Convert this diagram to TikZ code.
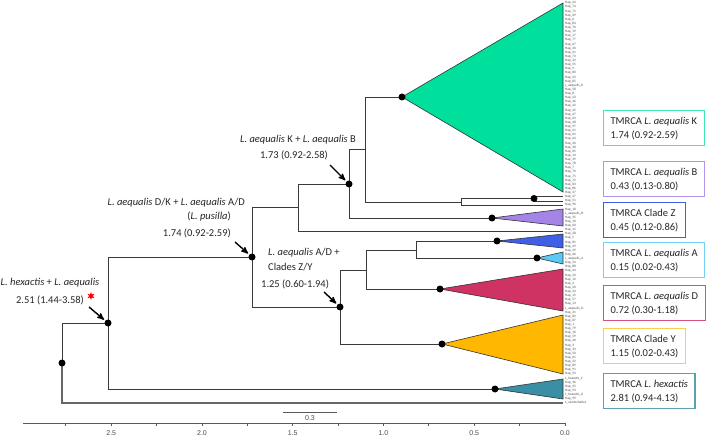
\documentclass[tikz,border=0pt]{standalone}
\usepackage{fontspec}
\setmainfont{Carlito}
\newfontfamily\axisfont{Liberation Sans}
\usetikzlibrary{positioning,shapes.geometric,arrows}
\definecolor{cladeK}{HTML}{00E09C}
\definecolor{cladeB}{HTML}{A584E8}
\definecolor{cladeZ}{HTML}{3F5FE6}
\definecolor{cladeA}{HTML}{5CC9F5}
\definecolor{cladeD}{HTML}{CF3363}
\definecolor{cladeY}{HTML}{FFB700}
\definecolor{cladeH}{HTML}{3A8FA5}
\definecolor{treegray}{HTML}{3A3A3A}
\tikzset{
        >=stealth', % arrow heads of the pointers
        branch/.style={draw=treegray, line width=0.9pt},
        clade/.style={draw=black!80, line width=0.6pt},
        dot/.style={circle, fill=black, inner sep=0pt, minimum size=7pt},
        tip/.style={anchor=west, inner sep=0pt, text=black!70, font=\fontsize{3.4}{3.4}\selectfont},
        lbl/.style={inner sep=0pt, text=black!85, font=\fontsize{10.5}{12}\selectfont},
        ptr/.style={->, line width=1.4pt, shorten >=1.5pt},
        tbox/.style={anchor=north west, align=left, line width=1.2pt, inner xsep=7pt, inner ysep=4pt,
                     minimum height=35pt, text=black!85, font=\fontsize{10.5}{14}\selectfont},
        axis/.style={draw=black!65, line width=0.8pt},
        axlab/.style={inner sep=0pt, text=black!70, font=\axisfont\fontsize{7}{8}\selectfont},
}
\begin{document}
\begin{tikzpicture}[x=1pt,y=-1pt]
\fill[white] (0,0) rectangle (709,438);
\useasboundingbox (0,0) rectangle (709,438);

% internal nodes of the tree (0.0 at x=565, 181.5 per unit)
\coordinate (root) at (62,363);
\coordinate (hexaq) at (108,323);
\coordinate (dk) at (252,257);
\coordinate (u298) at (298,207);
\coordinate (kb) at (349,184);
\coordinate (u365) at (365,149);
\coordinate (u461) at (461,202);
\coordinate (n534) at (534,198.5);
\coordinate (ad) at (340,307);
\coordinate (u366) at (366,270);
\coordinate (u416) at (416,250);
% collapsed clades
\coordinate (kK) at (402,97);
\coordinate (kB) at (492,218);
\coordinate (kZ) at (497,241);
\coordinate (kA) at (537,258);
\coordinate (kD) at (440,289);
\coordinate (kY) at (442,344);
\coordinate (kH) at (495,389);
% single tips
\coordinate (t196) at (563,196);
\coordinate (t201) at (563,201);
\coordinate (t205) at (563,205);
\coordinate (t231) at (563,231);
\coordinate (camt) at (563,403);

\foreach \apex/\top/\bot/\col in {kK/3/192/cladeK, kB/209/226/cladeB, kZ/234/248/cladeZ,
    kA/252/264/cladeA, kD/269/311/cladeD, kY/315/374/cladeY, kH/379/399/cladeH}
  \filldraw[clade, fill=\col] (\apex) -- (563,\top) -- (563,\bot) -- cycle;

\foreach \p/\c in {root/hexaq, hexaq/dk, hexaq/kH, dk/u298, dk/ad, u298/kb, u298/t231,
    kb/u365, kb/kB, u365/kK, u365/u461, u461/n534, u461/t205, n534/t196, n534/t201,
    ad/u366, ad/kY, u366/u416, u366/kD, u416/kZ, u416/kA}
  \draw[branch] (\p) |- (\c);
\draw[draw=black!60, line width=2pt] (root) |- (camt);

\foreach \c in {root,hexaq,dk,kb,kK,n534,kB,ad,kZ,kA,kD,kY,kH}
  \node[dot] (dot-\c) at (\c) {};

% tip labels
\foreach \t [count=\i from 0] in {Hap\_24,Hap\_74,Hap\_71,Hap\_69,Hap\_6,Hap\_84,Hap\_76,Hap\_19,
    Hap\_17,Hap\_77,Hap\_67,Hap\_30,Hap\_41,Hap\_73,Hap\_32,Hap\_55,Hap\_9,Hap\_80,Hap\_52,Hap\_85,
    L\_aequalis\_K,Hap\_58,Hap\_8,Hap\_43,Hap\_46,Hap\_42,Hap\_45,Hap\_47,Hap\_63,Hap\_48,Hap\_97,
    Hap\_21,Hap\_62,Hap\_64,Hap\_26,Hap\_38,Hap\_65,Hap\_14,Hap\_39,Hap\_78,Hap\_7,Hap\_70,Hap\_75,
    Hap\_72,Hap\_83,Hap\_86,Hap\_37,Hap\_27,Hap\_51,Hap\_90,Hap\_18,L\_aequalis\_B,Hap\_35,Hap\_10,
    Hap\_60,Hap\_11,Hap\_28,Hap\_5,Hap\_81,Hap\_49,Hap\_29,Hap\_66,L\_aequalis\_A,Hap\_54,Hap\_88,
    Hap\_44,Hap\_34,Hap\_12,Hap\_2,Hap\_20,Hap\_23,Hap\_15,Hap\_57,Hap\_13,L\_aequalis\_D,Hap\_31,
    Hap\_82,Hap\_87,Hap\_1,Hap\_79,Hap\_16,Hap\_59,Hap\_40,Hap\_3,Hap\_33,Hap\_50,Hap\_61,Hap\_22,
    Hap\_89,Hap\_91,Hap\_92,L\_hexactis\_C,Hap\_36,Hap\_25,Hap\_93,L\_hexactis\_G,Hap\_99,
    L\_camtschatica}
  \node[tip] (tip\i) at (565,{3+\i*4.124}) {\t};

% node labels
\node[lbl, anchor=west] (hexlab) at (0.5,283) {\textit{L. hexactis} + \textit{L. aequalis}};
\node[lbl] (hexage) at (50,300) {2.51 (1.44-3.58)};
\node[star, star points=6, star point ratio=2.2, fill=red, inner sep=0pt, minimum size=8pt] (hexstar) at (91,296) {};
\coordinate (hexarr) at (89,307);
\draw[ptr] (hexarr) -- (dot-hexaq);

\node[lbl] (kblab) at (298,140) {\textit{L. aequalis} K + \textit{L. aequalis} B};
\node[lbl] (kbage) at (294,155) {1.73 (0.92-2.58)};
\coordinate (kbarr) at (330,165);
\draw[ptr] (kbarr) -- (dot-kb);

\node[lbl, anchor=east] (dklab) at (245,203) {\textit{L. aequalis} D/K + \textit{L. aequalis} A/D};
\node[lbl, anchor=east] (dkpus) at (231,217) {(\textit{L. pusilla})};
\node[lbl, anchor=east] (dkage) at (231,233) {1.74 (0.92-2.59)};
\coordinate (dkarr) at (235,242);
\draw[ptr] (dkarr) -- (dot-dk);

\node[lbl, anchor=west] (adlab) at (268,253) {\textit{L. aequalis} A/D +};
\node[lbl, anchor=west] (adcl) at (268,267) {Clades Z/Y};
\node[lbl, anchor=west] (adage) at (261,284) {1.25 (0.60-1.94)};
\coordinate (adarr) at (324,292);
\draw[ptr] (adarr) -- (dot-ad);

% TMRCA boxes
\node[tbox, draw=cladeK!75] (boxK) at (603,110) {TMRCA \textit{L. aequalis} K\\1.74 (0.92-2.59)};
\node[tbox, draw=cladeB!85] (boxB) at (603,161) {TMRCA \textit{L. aequalis} B\\0.43 (0.13-0.80)};
\node[tbox, draw=cladeZ] (boxZ) at (603,202) {TMRCA Clade Z\\0.45 (0.12-0.86)};
\node[tbox, draw=cladeA!85] (boxA) at (603,242) {TMRCA \textit{L. aequalis} A\\0.15 (0.02-0.43)};
\node[tbox, draw=cladeD!85] (boxD) at (603,285) {TMRCA \textit{L. aequalis} D\\0.72 (0.30-1.18)};
\node[tbox, draw=cladeY!70] (boxY) at (603,328) {TMRCA Clade Y\\1.15 (0.02-0.43)};
\node[tbox, draw=cladeH!85] (boxH) at (603,373) {TMRCA \textit{L. hexactis}\\2.81 (0.94-4.13)};

% scale bar and time axis
\coordinate (sbl) at (283,412);
\coordinate (sbr) at (337,412);
\draw[axis] (sbl) -- (sbr);
\node[axlab] (sblab) at (310,418.5) {0.3};
\coordinate (axl) at (23,423);
\coordinate (axr) at (565,423);
\draw[axis] (axl) -- (axr);
\foreach \t in {0,0.25,...,2.8}
  \draw[axis] ({565-\t*181.5},423) -- ++(0,2.5);
\foreach \t [count=\i] in {0.0,0.5,1.0,1.5,2.0,2.5}
  \node[axlab] (ax\i) at ({565-\t*181.5},433) {\t};
\end{tikzpicture}
\end{document}
